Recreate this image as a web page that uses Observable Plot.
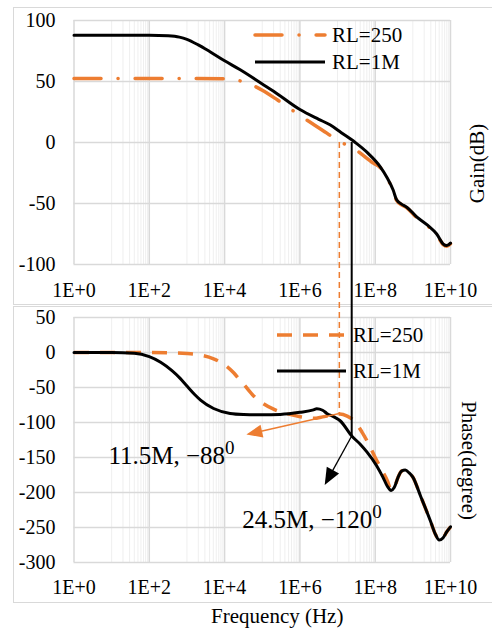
<!DOCTYPE html>
<html>
<head>
<meta charset="utf-8">
<script src="https://cdn.jsdelivr.net/npm/d3@7"></script>
<script src="https://cdn.jsdelivr.net/npm/@observablehq/plot@0.6"></script>
<style>
  body { margin: 0; background: #fff; }
  #wrap { position: relative; width: 492px; height: 631px; overflow: hidden; background: #fff;
          font-family: "Liberation Serif", "DejaVu Serif", "Times New Roman", serif; }
  #wrap svg text { font-family: "Liberation Serif", "DejaVu Serif", "Times New Roman", serif; }
  .layer { position: absolute; left: 0; }
  .frame { position: absolute; box-sizing: border-box; border: 1.5px solid #d9d9d9; border-right: none; pointer-events: none; }
</style>
</head>
<body>
<div id="wrap"></div>
<script>
// ---------------- data ----------------
const xTicks = [1, 1e2, 1e4, 1e6, 1e8, 1e10];
const xTickLabels = ["1E+0", "1E+2", "1E+4", "1E+6", "1E+8", "1E+10"];
const xMinor = [10, 20, 30, 40, 50, 60, 70, 80, 90,
  1e3, 2e3, 3e3, 4e3, 5e3, 6e3, 7e3, 8e3, 9e3,
  1e5, 2e5, 3e5, 4e5, 5e5, 6e5, 7e5, 8e5, 9e5,
  1e7, 2e7, 3e7, 4e7, 5e7, 6e7, 7e7, 8e7, 9e7,
  1e9, 2e9, 3e9, 4e9, 5e9, 6e9, 7e9, 8e9, 9e9];
const gainTicks = [100, 50, 0, -50, -100];
const phaseTicks = [50, 0, -50, -100, -150, -200, -250, -300];

const seriesNames = ["RL=250", "RL=1M"];
const gainTitle = "Gain(dB)";
const phaseTitle = "Phase(degree)";
const freqTitle = "Frequency (Hz)";

// Gain, RL=1M
const gainFreq1M = [1, 10, 100, 316, 631, 1e3, 2e3, 4e3, 1e4, 2.6e4, 1e5, 2e5, 1e6, 3.16e6, 6.3e6,
  1.26e7, 2.95e7, 6.3e7, 1.35e8, 2e8, 3e8, 3.7e8, 5e8, 6.9e8, 1.26e9, 2.5e9, 4.3e9, 6.3e9, 8e9, 1e10];
const gain1M = [88, 88, 88, 87.5, 86.4, 84.6, 80, 74.6, 67, 59.6, 48, 42, 27, 19, 14.5,
  8, 0, -8.5, -19.7, -28, -39, -47, -50.5, -53, -61, -68, -75, -83, -84.5, -82.5];

// Gain, RL=250
const gainFreq250 = [1, 10, 100, 1e3, 1e4, 2e4, 3.16e4, 5.9e4, 1e5, 2.5e5, 1.1e6, 5.2e6, 1.12e7, 2.6e7, 8.9e7,
  1.35e8, 2e8, 3e8, 3.7e8, 5e8, 6.9e8, 1.26e9, 2.5e9, 4.3e9, 6.3e9, 8e9, 1e10];
const gain250 = [52.5, 52.5, 52.5, 52.5, 52.2, 51.2, 49.8, 46.5, 42.8, 35, 21.3, 7.7, 0.8, -4.6, -16.9,
  -20.5, -28.5, -39.5, -47.5, -51, -53.5, -61.5, -68.5, -75.5, -83.5, -85, -83];

// Phase, RL=1M
const phaseFreq1M = [1, 10, 40, 100, 200, 400, 660, 1e3, 1.6e3, 2.3e3, 5.1e3, 1.4e4, 3.2e4, 1e5, 3e5,
  1e6, 2.3e6, 2.8e6, 4e6, 5.2e6, 8e6, 1.17e7, 2.45e7, 4e7, 6e7, 1.1e8, 1.6e8, 2.1e8, 2.65e8, 3.2e8,
  4e8, 5e8, 6.3e8, 8e8, 1e9, 1.6e9, 2.9e9, 4e9, 5e9, 6.3e9, 8e9, 1e10];
const phase1M = [0, 0, -1, -6, -14, -26, -37, -48, -60, -68, -80, -87, -88.5, -89, -88.5,
  -85.5, -82, -80.5, -82.5, -87, -92, -97.5, -120, -131, -142, -162, -178, -191, -197, -193,
  -179, -169.5, -168, -172, -178, -205, -240, -260, -268, -265, -256, -249];

// Phase, RL=250
const phaseFreq250 = [1, 10, 100, 1e3, 2e3, 5.1e3, 1e4, 1.74e4, 2.6e4, 3.16e4, 5.9e4, 1e5, 2e5, 5e5,
  1.1e6, 2.3e6, 4e6, 7e6, 1.15e7, 1.8e7, 2.8e7, 4.5e7, 6.6e7, 1e8, 1.4e8, 2.1e8, 2.65e8, 3.2e8,
  4e8, 5e8, 6.3e8, 8e8, 1e9, 1.6e9, 2.9e9, 4e9, 5e9, 6.3e9, 8e9, 1e10];
const phase250 = [0, 0, 0, -1.5, -3, -9, -17.5, -29, -40, -45, -62, -72, -81, -88,
  -92, -94, -92, -89.5, -88, -91, -98, -114, -130, -150, -165, -183, -196, -193,
  -179, -169.5, -168, -172, -178, -205, -240, -260, -268, -265, -256, -249];

// Annotated points: where each gain curve crosses 0 dB, and the phase there
const crossFreq = [11.5e6, 24.5e6];
const crossPhase = [-88, -120];
const crossGain = [0, 0];
const annotText = ["11.5M, \u221288", "24.5M, \u2212120"];
const annotSup = ["0", "0"];
const annotFreq = [8.2, 2.94e4];
const annotPhase = [-158.6, -250];
const arrowTipFreq = [3.9e4, 4.7e6];
const arrowTipPhase = [-118, -190];

// ---------------- drawing ----------------
const FONT = '"Liberation Serif", "DejaVu Serif", "Times New Roman", serif';
const ORANGE = "#ED7D31";
const GRID = "#d9d9d9";
const MINOR = "#efefef";
const rows = (f, v) => f.map((d, i) => ({f: d, v: v[i]}));

const baseStyle = {fontFamily: FONT, fontSize: "20px", color: "#000", background: "transparent", overflow: "visible"};
const xOpts = (pad) => ({
  type: "log", domain: [1, 1e10], ticks: xTicks,
  tickFormat: d => xTickLabels[xTicks.indexOf(d)],
  tickSize: 0, tickPadding: pad, label: null
});
const grid = (yt) => [
  Plot.ruleX(xMinor, {stroke: MINOR, strokeWidth: 1}),
  Plot.ruleX(xTicks, {stroke: GRID, strokeWidth: 1.5}),
  Plot.ruleY(yt, {stroke: GRID, strokeWidth: 1.5})
];

const TOP_H = 305;
const BOT_TOP = 305;

const topPlot = Plot.plot({
  width: 492, height: TOP_H,
  marginLeft: 73.5, marginRight: 42, marginTop: 20, marginBottom: 41,
  style: baseStyle,
  x: xOpts(18),
  y: {domain: [-100, 100], ticks: gainTicks, tickFormat: d => String(d), tickSize: 0, tickPadding: 18.5, label: null},
  marks: [
    ...grid(gainTicks),
    Plot.line(rows(gainFreq250, gain250), {x: "f", y: "v", stroke: ORANGE, strokeWidth: 3.5,
      strokeDasharray: "27,17,0.1,17", strokeLinecap: "round", curve: "monotone-x"}),
    Plot.line(rows(gainFreq1M, gain1M), {x: "f", y: "v", stroke: "#000", strokeWidth: 3, curve: "monotone-x"}),
    Plot.text([gainTitle], {text: d => d, frameAnchor: "right", textAnchor: "middle", lineAnchor: "middle",
      dx: 27, dy: 21, rotate: -90, fontSize: 21})
  ]
});

const botPlot = Plot.plot({
  width: 492, height: 631 - BOT_TOP,
  marginLeft: 73.5, marginRight: 42, marginTop: 12, marginBottom: 69,
  style: baseStyle,
  x: xOpts(17),
  y: {domain: [-300, 50], ticks: phaseTicks, tickFormat: d => String(d), tickSize: 0, tickPadding: 18.5, label: null},
  marks: [
    ...grid(phaseTicks),
    Plot.line(rows(phaseFreq250, phase250), {x: "f", y: "v", stroke: ORANGE, strokeWidth: 3.5,
      strokeDasharray: "15,11", strokeLinecap: "butt", curve: "monotone-x"}),
    Plot.line(rows(phaseFreq1M, phase1M), {x: "f", y: "v", stroke: "#000", strokeWidth: 3, curve: "monotone-x"}),
    Plot.text([phaseTitle], {text: d => d, frameAnchor: "right", textAnchor: "middle", lineAnchor: "middle",
      dx: 18, dy: 20.5, rotate: 90, fontSize: 21}),
    Plot.text([freqTitle], {text: d => d, frameAnchor: "bottom", textAnchor: "middle", lineAnchor: "bottom",
      dx: 15, dy: 60, fontSize: 21}),
    Plot.text(annotText.map((t, i) => ({t, f: annotFreq[i], v: annotPhase[i]})),
      {x: "f", y: "v", text: "t", textAnchor: "start", lineAnchor: "bottom", fontSize: 25})
  ]
});

// superscript degree marks
d3.select(botPlot).selectAll("text")
  .filter(function () { return annotText.includes(this.textContent); })
  .each(function () {
    const i = annotText.indexOf(this.textContent);
    d3.select(this).append("tspan").attr("dy", -10).attr("font-size", 19).text(annotSup[i]);
  });

const wrap = document.getElementById("wrap");
const topDiv = document.createElement("div");
topDiv.className = "layer"; topDiv.style.top = "0px";
topDiv.appendChild(topPlot);
wrap.appendChild(topDiv);
const botDiv = document.createElement("div");
botDiv.className = "layer"; botDiv.style.top = BOT_TOP + "px";
botDiv.appendChild(botPlot);
wrap.appendChild(botDiv);

// chart-area frames
function frame(top, height) {
  const f = document.createElement("div");
  f.className = "frame";
  f.style.left = "13px"; f.style.top = top + "px"; f.style.width = "500px"; f.style.height = height + "px";
  wrap.appendChild(f);
}
frame(7, 298);
frame(306, 297);

// overlay for cross-panel guide lines, arrows and legends
const sx = topPlot.scale("x"), syT = topPlot.scale("y"), syB = botPlot.scale("y");
const X = v => sx.apply(v);
const YT = v => syT.apply(v);
const YB = v => BOT_TOP + syB.apply(v);

const ov = d3.select(wrap).append("svg")
  .attr("width", 492).attr("height", 631)
  .style("position", "absolute").style("left", 0).style("top", 0).style("pointer-events", "none")
  .attr("font-family", FONT);

const guideStyles = [
  {stroke: ORANGE, width: 1.5, dash: "6,4", headLen: 16, headHalf: 6.5, arrowWidth: 1.5},
  {stroke: "#000", width: 2, dash: null, headLen: 17, headHalf: 7, arrowWidth: 1.3}
];

crossFreq.forEach((f, i) => {
  const s = guideStyles[i];
  const l = ov.append("line")
    .attr("x1", X(f)).attr("x2", X(f))
    .attr("y1", YT(crossGain[i])).attr("y2", YB(crossPhase[i]))
    .attr("stroke", s.stroke).attr("stroke-width", s.width);
  if (s.dash) l.attr("stroke-dasharray", s.dash);
});

crossFreq.forEach((f, i) => {
  const s = guideStyles[i];
  const x1 = X(f), y1 = YB(crossPhase[i]);
  const x2 = X(arrowTipFreq[i]), y2 = YB(arrowTipPhase[i]);
  const dx = x2 - x1, dy = y2 - y1, L = Math.hypot(dx, dy);
  const ux = dx / L, uy = dy / L;
  const bx = x2 - ux * s.headLen, by = y2 - uy * s.headLen;
  ov.append("line").attr("x1", x1).attr("y1", y1).attr("x2", bx + ux * 2).attr("y2", by + uy * 2)
    .attr("stroke", s.stroke).attr("stroke-width", s.arrowWidth);
  ov.append("polygon")
    .attr("points", [[x2, y2], [bx - uy * s.headHalf, by + ux * s.headHalf], [bx + uy * s.headHalf, by - ux * s.headHalf]].map(p => p.join(",")).join(" "))
    .attr("fill", s.stroke);
});

// legends
function legend(x0, x1, ys, dashes, caps) {
  const styles = [
    {stroke: ORANGE, width: 3.5, dash: dashes, cap: caps},
    {stroke: "#000", width: 3, dash: null, cap: "butt"}
  ];
  seriesNames.forEach((name, i) => {
    const s = styles[i];
    const l = ov.append("line").attr("x1", x0).attr("x2", x1).attr("y1", ys[i]).attr("y2", ys[i])
      .attr("stroke", s.stroke).attr("stroke-width", s.width).attr("stroke-linecap", s.cap);
    if (s.dash) l.attr("stroke-dasharray", s.dash);
    ov.append("text").attr("x", x1 + 7).attr("y", ys[i]).attr("dy", "0.35em")
      .attr("font-size", 21).attr("fill", "#000").text(name);
  });
}
legend(255, 325, [35, 62], "27,17,0.1,17", "round");
legend(277, 346, [335, 371], "15,11", "butt");
</script>
</body>
</html>
